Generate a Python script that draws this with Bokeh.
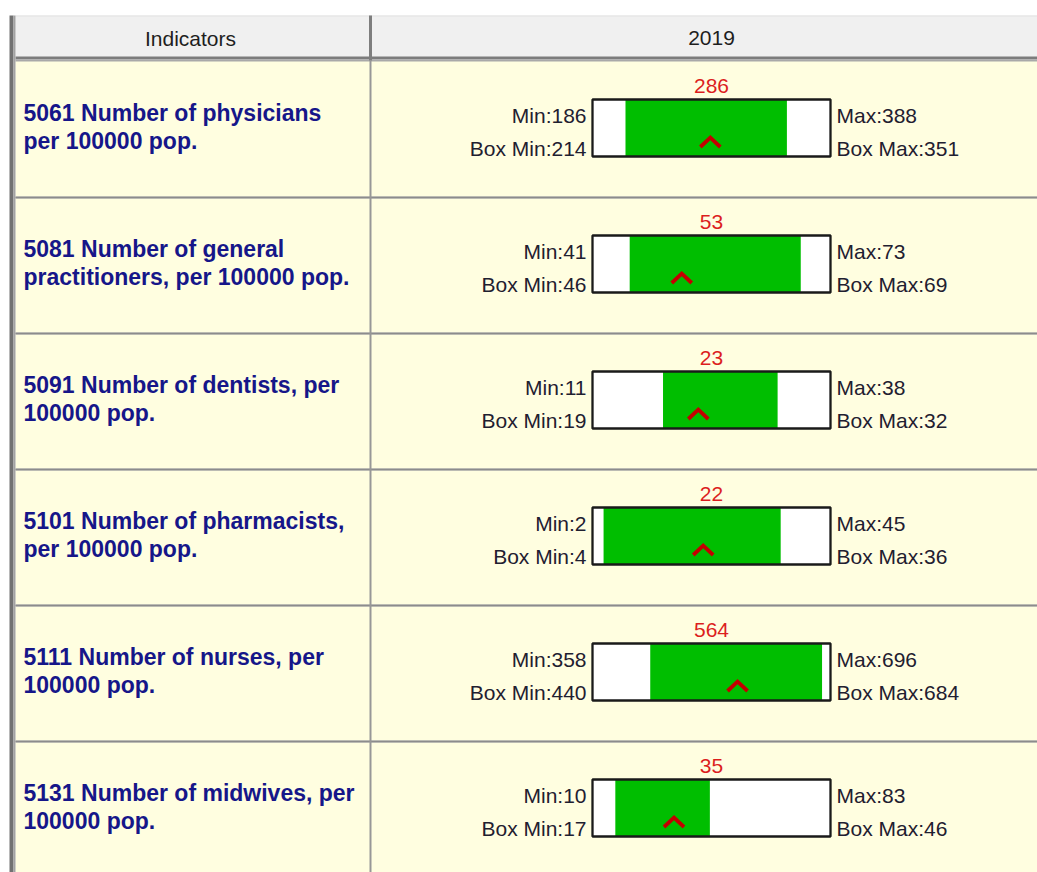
from bokeh.plotting import figure
from bokeh.models import Range1d
from bokeh.embed import file_html
from bokeh.resources import INLINE
from bokeh.core.properties import value

# ---------------- data ----------------
header_labels = ["Indicators", "2019"]
indicators = [
    "5061 Number of physicians\nper 100000 pop.",
    "5081 Number of general\npractitioners, per 100000 pop.",
    "5091 Number of dentists, per\n100000 pop.",
    "5101 Number of pharmacists,\nper 100000 pop.",
    "5111 Number of nurses, per\n100000 pop.",
    "5131 Number of midwives, per\n100000 pop.",
]
values = [286, 53, 23, 22, 564, 35]
mins = [186, 41, 11, 2, 358, 10]
maxs = [388, 73, 38, 45, 696, 83]
box_mins = [214, 46, 19, 4, 440, 17]
box_maxs = [351, 69, 32, 36, 684, 46]

# ---------------- layout (picture pixel space) ----------------
FX0, FY0 = 0, 0
FW, FH = 1037, 872
BOX_L, BOX_R = 592, 830
ROW_PITCH = 136
BOX_TOP0 = 99
BOX_H = 57
FONT = value("Liberation Sans")
FS = 21      # label font size
FSB = 23     # indicator font size


def base(y, fs):
    # rendered baseline sits ~0.4em below the requested y
    return y - 0.4 * fs


p = figure(width=FW, height=FH, output_backend="svg", toolbar_location=None,
           x_range=Range1d(FX0, FX0 + FW), y_range=Range1d(FY0 + FH, FY0),
           x_axis_location=None, y_axis_location=None, min_border=0,
           background_fill_color="white", border_fill_color="white")
p.outline_line_color = None
p.grid.visible = False

RIGHT = 1040
BOTTOM = 880

# backgrounds
p.quad(left=15, right=RIGHT, top=15, bottom=57, fill_color="#f0f0f0", line_color=None)
p.quad(left=15, right=RIGHT, top=15, bottom=16, fill_color="#e2e2e2", line_color=None)
p.quad(left=15, right=RIGHT, top=60, bottom=BOTTOM, fill_color="#fffee0", line_color=None)
# header bottom line
p.quad(left=15, right=RIGHT, top=56, bottom=59, fill_color="#7c7c7c", line_color=None)
p.quad(left=15, right=RIGHT, top=59, bottom=61, fill_color="#a9a9a9", line_color=None)
# row separators
n = len(values)
sep_y = [197 + ROW_PITCH * k for k in range(n - 1)]
p.quad(left=15, right=RIGHT, top=[y - 1.3 for y in sep_y], bottom=[y + 1.3 for y in sep_y],
       fill_color="#a4a4a4", line_color=None)
p.quad(left=15, right=RIGHT, top=[y - 0.5 for y in sep_y], bottom=[y + 0.5 for y in sep_y],
       fill_color="#8c8c8c", line_color=None)
# left border
p.quad(left=9, right=13, top=15, bottom=BOTTOM, fill_color="#727272", line_color=None)
p.quad(left=13, right=15, top=15, bottom=BOTTOM, fill_color="#a2a2a2", line_color=None)
# column divider
p.quad(left=368.5, right=371.5, top=15, bottom=60, fill_color="#7e7e7e", line_color=None)
p.quad(left=369, right=371, top=60, bottom=BOTTOM, fill_color="#979797", line_color=None)

# per-row value scales: min -> BOX_L, max -> BOX_R
box_tops = [BOX_TOP0 + ROW_PITCH * i for i in range(n)]
for i in range(n):
    k = (maxs[i] - mins[i]) / (BOX_R - BOX_L)
    start = mins[i] - (BOX_L - FX0) * k
    end = start + FW * k
    name = f"r{i}"
    p.extra_x_ranges[name] = Range1d(start, end)
    top = box_tops[i]
    bot = top + BOX_H
    p.quad(left=[mins[i]], right=[maxs[i]], top=[top], bottom=[bot], fill_color="white",
           line_color=None, x_range_name=name)
    p.quad(left=[box_mins[i]], right=[box_maxs[i]], top=[top], bottom=[bot],
           fill_color="#00be00", line_color=None, x_range_name=name)
    p.quad(left=[mins[i]], right=[maxs[i]], top=[top], bottom=[bot], fill_color=None,
           line_color="#1a1a1a", line_width=2.3, x_range_name=name)
    h = 10 * k
    v = values[i]
    p.line(x=[v - h, v, v + h], y=[top + 47.5, top + 38, top + 47.5], line_color="#c40000",
           line_width=3.8, line_join="miter", x_range_name=name)

# header texts
p.text(x=[190, 711], y=[base(46, FS)] * 2, text=header_labels, text_font=FONT,
       text_font_size=f"{FS}px", text_color="#1e1e1e", text_align="center",
       text_baseline="alphabetic")

line1 = [s.split("\n")[0] for s in indicators]
line2 = [s.split("\n")[1] for s in indicators]
p.text(x=[23] * n, y=[base(t + 23, FSB) for t in box_tops], text=line1, text_font=FONT,
       text_font_size=f"{FSB}px", text_font_style="bold", text_color="#161689",
       text_baseline="alphabetic")
p.text(x=[23] * n, y=[base(t + 51, FSB) for t in box_tops], text=line2, text_font=FONT,
       text_font_size=f"{FSB}px", text_font_style="bold", text_color="#161689",
       text_baseline="alphabetic")

lab_color = "#1f2030"
common = dict(text_font=FONT, text_font_size=f"{FS}px", text_baseline="alphabetic")
p.text(x=[586] * n, y=[base(t + 24, FS) for t in box_tops], text=[f"Min:{v}" for v in mins],
       text_color=lab_color, text_align="right", **common)
p.text(x=[586] * n, y=[base(t + 57, FS) for t in box_tops],
       text=[f"Box Min:{v}" for v in box_mins], text_color=lab_color, text_align="right",
       **common)
p.text(x=[836] * n, y=[base(t + 24, FS) for t in box_tops], text=[f"Max:{v}" for v in maxs],
       text_color=lab_color, text_align="left", **common)
p.text(x=[836] * n, y=[base(t + 57, FS) for t in box_tops],
       text=[f"Box Max:{v}" for v in box_maxs], text_color=lab_color, text_align="left",
       **common)
p.text(x=[(BOX_L + BOX_R) / 2] * n, y=[base(t - 5, FS) for t in box_tops],
       text=[str(v) for v in values], text_color="#dc1e1e", text_align="center", **common)

open("out.html", "w").write(file_html(p, INLINE))
